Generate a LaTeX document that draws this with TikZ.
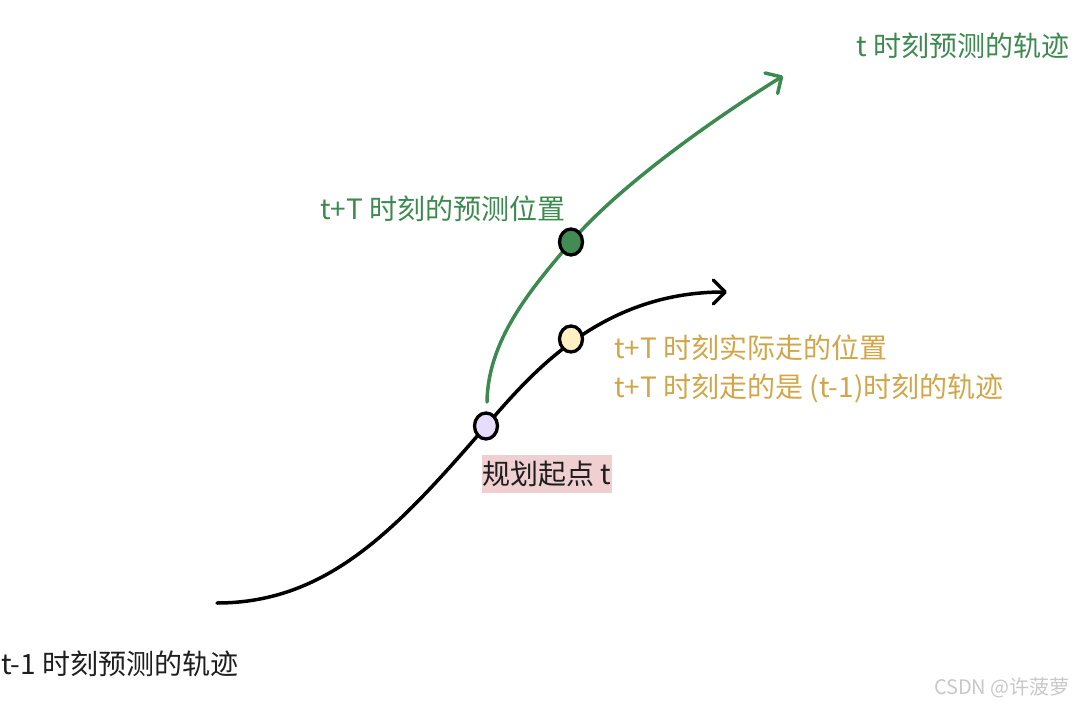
\documentclass[tikz,border=0pt]{standalone}
\usepackage{fontspec}
\setmainfont{Noto Sans CJK SC}
\usetikzlibrary{arrows.meta,shapes.geometric}
\definecolor{tgreen}{HTML}{3D8A50}
\definecolor{tgold}{HTML}{D2A648}
\definecolor{tink}{HTML}{1E1E1E}
\definecolor{dotpurple}{HTML}{E6DCFB}
\definecolor{dotyellow}{HTML}{FFF1C4}
\definecolor{dotgreen}{HTML}{428B52}
\definecolor{boxpink}{HTML}{EFCFD0}
\definecolor{wm}{HTML}{C8C8C8}
\begin{document}
\begin{tikzpicture}[x=1pt,y=-1pt,
  curve/.style={line width=3.5pt,line cap=round,line join=round},
  tip/.style={-{Straight Barb[length=12pt,width=24pt,round]}},
  dot/.style={draw=black,line width=3.3pt,ellipse,minimum width=23pt,minimum height=26pt,inner sep=0pt},
  lbl/.style={anchor=west,inner sep=0pt,font=\fontsize{28}{33}\selectfont},
]
\useasboundingbox (0,0) rectangle (1074,704);
% coordinates
\coordinate (bstart) at (217,603);
\coordinate (bend) at (727,292);
\coordinate (gstart) at (487,402);
\coordinate (gend) at (783,76);
\coordinate (pP) at (486,426);
\coordinate (pY) at (571,339);
\coordinate (pG) at (571,242);
% black trajectory
\draw[curve,black,tip] (bstart) .. controls (330,603) and (400,525) .. (pP)
  .. controls (530,375) and (600,292) .. (bend);
% green trajectory
\draw[curve,tgreen,tip] (gstart) .. controls (488,340) and (530,290) .. (pG)
  .. controls (620,185) and (715,118) .. (gend);
% dots
\node[dot,fill=dotpurple] (dP) at (pP) {};
\node[dot,fill=dotyellow] (dY) at (pY) {};
\node[dot,fill=dotgreen] (dG) at (pG) {};
% labels
\node[lbl,text=tgreen] (l1) at (856,46) {t 时刻预测的轨迹};
\node[lbl,text=tgreen] (l2) at (320,209) {t+T 时刻的预测位置};
\node[lbl,text=tgold] (l3) at (614,348) {t+T 时刻实际走的位置};
\node[lbl,text=tgold] (l4) at (614,388) {t+T 时刻走的是 (t-1)时刻的轨迹};
\node[lbl,text=tink] (l5) at (1,664) {t-1 时刻预测的轨迹};
\node[anchor=center,fill=boxpink,text=tink,inner xsep=1pt,inner ysep=0pt,minimum height=38pt,font=\fontsize{28}{33}\selectfont] (l6) at (547,474) {规划起点 t};
\node[anchor=east,inner sep=0pt,text=wm,font=\fontsize{20}{24}\selectfont] (wm) at (1070,688) {CSDN @许菠萝};
\end{tikzpicture}
\end{document}
